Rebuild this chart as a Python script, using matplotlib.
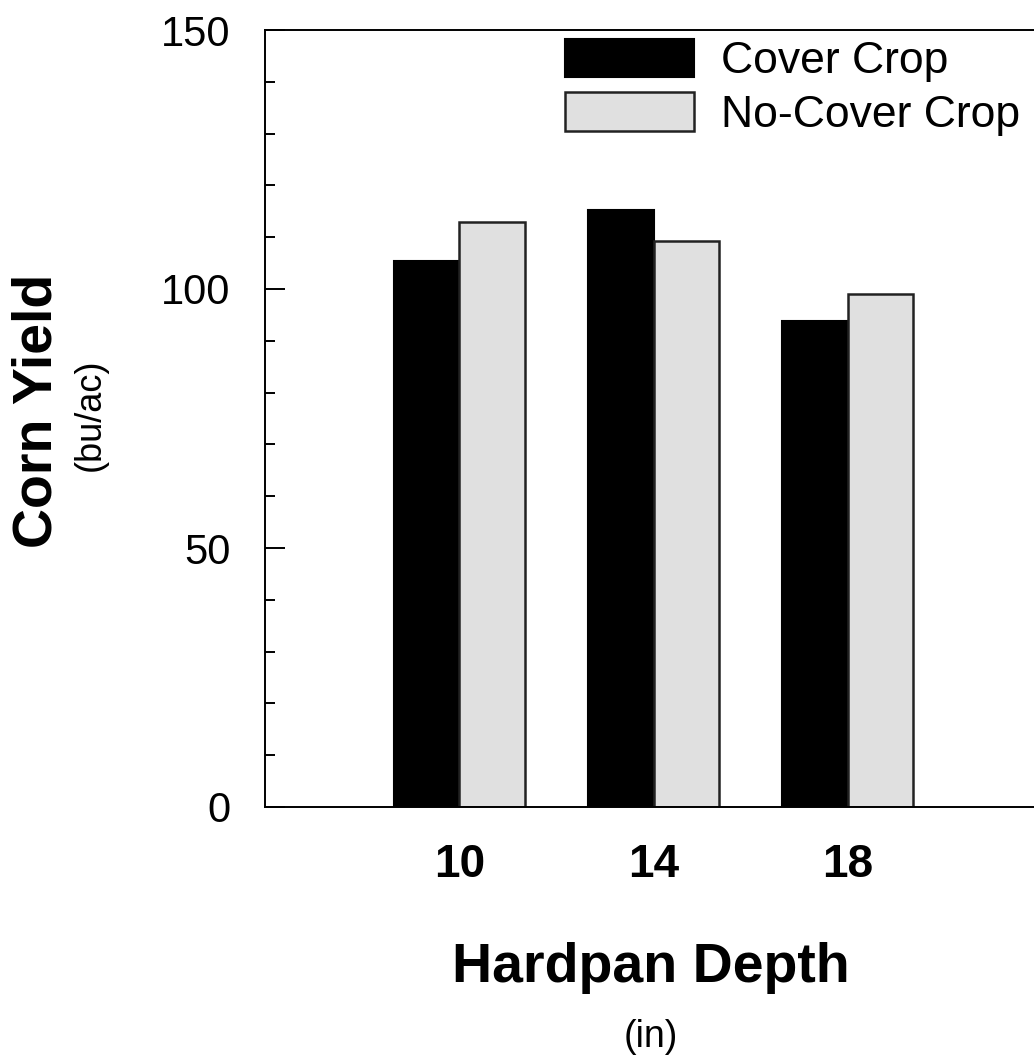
#!/usr/bin/env python

import matplotlib.pyplot as plt
import numpy as np
from matplotlib.ticker import MultipleLocator

plt.rcParams['font.family'] = ['Liberation Sans', 'DejaVu Sans']

# data
depths = ['10', '14', '18']
cover_crop = [105.5, 115.3, 93.8]
no_cover_crop = [112.9, 109.3, 99.0]
series_names = ['Cover Crop', 'No-Cover Crop']

W, H = 1034, 1061
fig = plt.figure(figsize=(W / 100, H / 100), dpi=100)
# axes: left spine at x=265, top at y=30, bottom at y=807, right spine just off the image
ax = fig.add_axes([265 / W, 1 - 807 / H, 777 / W, 777 / H])

x = np.arange(1, len(depths) + 1)
width = 0.337
ax.bar(x - width / 2, cover_crop, width, color='black', edgecolor='black',
       linewidth=1.5, label=series_names[0])
ax.bar(x + width / 2, no_cover_crop, width, color='#e0e0e0', edgecolor='#222222',
       linewidth=1.8, label=series_names[1])

ax.set_xlim(0, 4)
ax.set_ylim(0, 150)
ax.set_xticks(x)
ax.set_xticklabels(depths, fontsize=33, fontweight='bold')
ax.yaxis.set_major_locator(MultipleLocator(50))
ax.yaxis.set_minor_locator(MultipleLocator(10))
ax.tick_params(axis='y', which='major', direction='in', length=14.5, width=1.4,
               labelsize=30, pad=25)
ax.tick_params(axis='y', which='minor', direction='in', length=7, width=1.4)
ax.tick_params(axis='x', length=0, pad=26)
for s in ax.spines.values():
    s.set_linewidth(1.4)

fig.text(651 / W, 1 - 968 / H, 'Hardpan Depth', fontsize=40, fontweight='bold',
         ha='center', va='center')
fig.text(651 / W, 1 - 1037 / H, '(in)', fontsize=27, ha='center', va='center')
fig.text(38 / W, 1 - 411 / H, 'Corn Yield', fontsize=40, fontweight='bold',
         rotation=90, ha='center', va='center')
fig.text(90 / W, 1 - 415 / H, '(bu/ac)', fontsize=26, rotation=90,
         ha='center', va='center')

ax.legend(loc='upper left', bbox_to_anchor=(565 / W, 1 - 39 / H),
          bbox_transform=fig.transFigure, frameon=False, fontsize=32,
          borderpad=0, borderaxespad=0, handlelength=2.9, handleheight=0.95,
          handletextpad=0.62, labelspacing=0.22)

fig.savefig('out.png', dpi=100)
